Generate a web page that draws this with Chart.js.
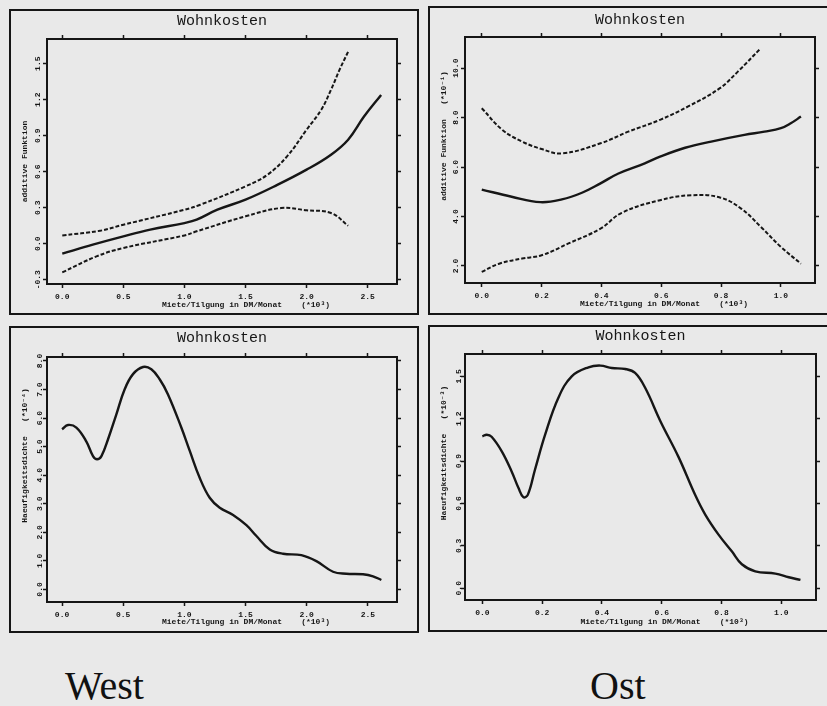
<!DOCTYPE html>
<html>
<head>
<meta charset="utf-8">
<script src="https://cdn.jsdelivr.net/npm/chart.js@4.4.1/dist/chart.umd.min.js"></script>
<style>
  body { margin: 0; background: #e9e9e9; width: 827px; height: 706px; overflow: hidden; position: relative; }
  .panel { position: absolute; box-sizing: border-box; border: 2px solid #161616; }
  .panel canvas { display: block; }
  .region { position: absolute; font-family: "Liberation Serif", serif; font-size: 40px; line-height: 40px; color: #111; }
</style>
</head>
<body>

<div class="panel" style="left:9px;top:9px;width:410px;height:306px"><canvas id="westFit" width="406" height="302"></canvas></div>
<div class="panel" style="left:428px;top:6px;width:410px;height:309px"><canvas id="ostFit" width="406" height="305"></canvas></div>
<div class="panel" style="left:9px;top:326px;width:410px;height:307px"><canvas id="westDens" width="406" height="303"></canvas></div>
<div class="panel" style="left:428px;top:325px;width:410px;height:307px"><canvas id="ostDens" width="406" height="303"></canvas></div>

<div class="region" style="left:65px;top:666px">West</div>
<div class="region" style="left:590px;top:666px">Ost</div>

<script>
// West: additive Funktion mit Konfidenzband
const westFitX   = [0, 0.25, 0.5, 0.72, 1.0, 1.1, 1.27, 1.5, 1.76, 2.0, 2.2, 2.34, 2.47, 2.61];
const westFitY   = [-0.083, -0.008, 0.061, 0.117, 0.172, 0.2, 0.283, 0.367, 0.49, 0.617, 0.742, 0.867, 1.06, 1.24];
const westUpperX = [0, 0.31, 0.5, 1.0, 1.13, 1.5, 1.68, 1.84, 2.0, 2.12, 2.2, 2.27, 2.34];
const westUpperY = [0.069, 0.108, 0.158, 0.283, 0.325, 0.478, 0.575, 0.728, 0.95, 1.117, 1.283, 1.45, 1.60];
const westLowerX = [0, 0.28, 0.5, 1.0, 1.1, 1.5, 1.79, 2.0, 2.2, 2.34];
const westLowerY = [-0.239, -0.106, -0.036, 0.069, 0.103, 0.228, 0.297, 0.278, 0.256, 0.15];

// Ost: additive Funktion (*10^-1)
const ostFitX   = [0, 0.1, 0.196, 0.268, 0.335, 0.397, 0.457, 0.545, 0.596, 0.68, 0.767, 0.878, 0.945, 1.0, 1.033, 1.067];
const ostFitY   = [5.09, 4.80, 4.58, 4.69, 4.96, 5.34, 5.74, 6.15, 6.42, 6.78, 7.03, 7.30, 7.43, 7.57, 7.77, 8.04];
const ostUpperX = [0, 0.069, 0.135, 0.2, 0.268, 0.397, 0.49, 0.596, 0.69, 0.796, 0.856, 0.933];
const ostUpperY = [8.38, 7.5, 7.03, 6.73, 6.55, 6.96, 7.43, 7.91, 8.45, 9.19, 9.86, 10.81];
const ostLowerX = [0, 0.058, 0.135, 0.2, 0.29, 0.397, 0.468, 0.596, 0.7, 0.796, 0.867, 0.933, 1.0, 1.067];
const ostLowerY = [1.76, 2.09, 2.30, 2.43, 2.91, 3.51, 4.15, 4.66, 4.86, 4.77, 4.32, 3.58, 2.77, 2.09];

// West: Haeufigkeitsdichte (*10^-4)
const westDensX = [0, 0.049, 0.117, 0.199, 0.253, 0.286, 0.322, 0.376, 0.444, 0.512, 0.58, 0.662, 0.73, 0.798, 0.866,
                   0.975, 1.044, 1.125, 1.207, 1.289, 1.398, 1.507, 1.589, 1.698, 1.807, 1.956, 2.079, 2.215, 2.324, 2.46, 2.542, 2.61];
const westDensY = [5.61, 5.76, 5.67, 5.18, 4.67, 4.56, 4.67, 5.26, 6.13, 7.01, 7.54, 7.79, 7.71, 7.36, 6.83,
                   5.67, 4.85, 3.91, 3.21, 2.86, 2.61, 2.25, 1.87, 1.40, 1.25, 1.20, 0.99, 0.62, 0.55, 0.53, 0.46, 0.33];

// Ost: Haeufigkeitsdichte (*10^-3)
const ostDensX = [0, 0.015, 0.031, 0.065, 0.098, 0.121, 0.137, 0.152, 0.176, 0.21, 0.254, 0.299, 0.355, 0.395, 0.433,
                  0.478, 0.511, 0.545, 0.596, 0.656, 0.712, 0.746, 0.79, 0.835, 0.868, 0.913, 0.98, 1.025, 1.064];
const ostDensY = [1.075, 1.087, 1.072, 0.969, 0.827, 0.709, 0.645, 0.661, 0.839, 1.087, 1.347, 1.5, 1.564, 1.576, 1.559,
                  1.552, 1.524, 1.417, 1.181, 0.93, 0.66, 0.52, 0.38, 0.26, 0.17, 0.12, 0.104, 0.078, 0.059];

// tick labels
const westXTicks    = [0, 0.5, 1.0, 1.5, 2.0, 2.5];
const ostXTicks     = [0, 0.2, 0.4, 0.6, 0.8, 1.0];
const westFitTicks  = [-0.3, 0, 0.3, 0.6, 0.9, 1.2, 1.5];
const ostFitTicks   = [2, 4, 6, 8, 10];
const westDensTicks = [0, 1, 2, 3, 4, 5, 6, 7, 8];
const ostDensTicks  = [0, 0.3, 0.6, 0.9, 1.2, 1.5];

const INK  = "#161616";
const MONO = "'Liberation Mono', 'DejaVu Sans Mono', monospace";
const X_TITLE = "          Miete/Tilgung in DM/Monat    (*10\u00b3)";

Chart.defaults.font.family = MONO;
Chart.defaults.color = INK;

function points(xs, ys) {
  return xs.map(function(x, i) { return { x: x, y: ys[i] }; });
}

function fixedTicks(values) {
  return function(scale) {
    scale.ticks = values.map(function(v) { return { value: v }; });
  };
}

function createPanel(id, curves, a, m) {
  var tickGrid  = { drawOnChartArea: false, drawTicks: true, tickLength: 4, tickWidth: 1.5, tickColor: INK };
  var frame     = { display: true, width: 2, color: INK };
  var labelFont = { family: MONO, size: 8, weight: "bold" };
  var fmt       = function(v) { return v.toFixed(1); };

  var datasets = curves.map(function(c) {
    return {
      data: c.data,
      borderColor: INK,
      borderWidth: c.dash ? 2 : 2.4,
      borderDash: c.dash ? [4, 2] : [],
      pointRadius: 0,
      tension: 0.4,
      fill: false,
      xAxisID: "x",
      yAxisID: "y"
    };
  });

  return new Chart(document.getElementById(id), {
    type: "line",
    data: { datasets: datasets },
    options: {
      responsive: false,
      animation: false,
      events: [],
      layout: { padding: 0 },
      plugins: {
        legend: { display: false },
        tooltip: { enabled: false },
        title: {
          display: true, fullSize: false, text: "Wohnkosten", color: INK,
          font: { family: MONO, size: 15, weight: "normal" },
          padding: { top: m.titleTop, bottom: 0 }
        }
      },
      scales: {
        x: {
          type: "linear", position: "bottom", min: a.xMin, max: a.xMax,
          afterBuildTicks: fixedTicks(a.xTicks),
          afterFit: function(s) { s.height = m.bottom; },
          grid: tickGrid, border: frame,
          ticks: { autoSkip: false, maxRotation: 0, padding: 4, color: INK, font: labelFont, callback: fmt },
          title: { display: true, text: X_TITLE, color: INK, font: labelFont, padding: { top: 0, bottom: m.xTitlePad } }
        },
        xTop: {
          type: "linear", position: "top", min: a.xMin, max: a.xMax,
          afterBuildTicks: fixedTicks(a.xTicks),
          afterFit: function(s) { s.height = m.top; },
          grid: tickGrid, border: frame,
          ticks: { display: false }
        },
        y: {
          type: "linear", position: "left", min: a.yMin, max: a.yMax,
          afterBuildTicks: fixedTicks(a.yTicks),
          afterFit: function(s) { s.width = m.left; },
          grid: tickGrid, border: frame,
          ticks: { autoSkip: false, minRotation: 90, maxRotation: 90, crossAlign: "center",
                   padding: m.yTickPad, color: INK, font: labelFont, callback: fmt },
          title: { display: true, text: a.yTitle, color: INK, font: labelFont, padding: { top: 9, bottom: 0 } }
        },
        yRight: {
          type: "linear", position: "right", min: a.yMin, max: a.yMax,
          afterBuildTicks: fixedTicks(a.yTicks),
          afterFit: function(s) { s.width = m.right; },
          grid: tickGrid, border: frame,
          ticks: { display: false }
        }
      }
    }
  });
}

createPanel("westFit",
  [ { data: points(westFitX, westFitY) },
    { data: points(westUpperX, westUpperY), dash: true },
    { data: points(westLowerX, westLowerY), dash: true } ],
  { xMin: -0.125, xMax: 2.74, xTicks: westXTicks, yMin: -0.336, yMax: 1.706, yTicks: westFitTicks,
    yTitle: "additive Funktion" },
  { left: 36, right: 20, top: 9, bottom: 29, titleTop: 1, xTitlePad: 3, yTickPad: -5 });

createPanel("ostFit",
  [ { data: points(ostFitX, ostFitY) },
    { data: points(ostUpperX, ostUpperY), dash: true },
    { data: points(ostLowerX, ostLowerY), dash: true } ],
  { xMin: -0.056, xMax: 1.114, xTicks: ostXTicks, yMin: 1.31, yMax: 11.26, yTicks: ostFitTicks,
    yTitle: "          additive Funktion   (*10\u207b\u00b9)" },
  { left: 35, right: 21, top: 8, bottom: 30, titleTop: 3, xTitlePad: 4, yTickPad: -5 });

createPanel("westDens",
  [ { data: points(westDensX, westDensY) } ],
  { xMin: -0.123, xMax: 2.738, xTicks: westXTicks, yMin: -0.44, yMax: 8.14, yTicks: westDensTicks,
    yTitle: "          Haeufigkeitsdichte   (*10\u207b\u2074)" },
  { left: 36, right: 20, top: 10, bottom: 29, titleTop: 1, xTitlePad: 4, yTickPad: -4 });

createPanel("ostDens",
  [ { data: points(ostDensX, ostDensY) } ],
  { xMin: -0.058, xMax: 1.116, xTicks: ostXTicks, yMin: -0.083, yMax: 1.658, yTicks: ostDensTicks,
    yTitle: "          Haeufigkeitsdichte   (*10\u207b\u00b3)" },
  { left: 35, right: 20, top: 9, bottom: 30, titleTop: 0, xTitlePad: 3, yTickPad: -5 });
</script>
</body>
</html>
